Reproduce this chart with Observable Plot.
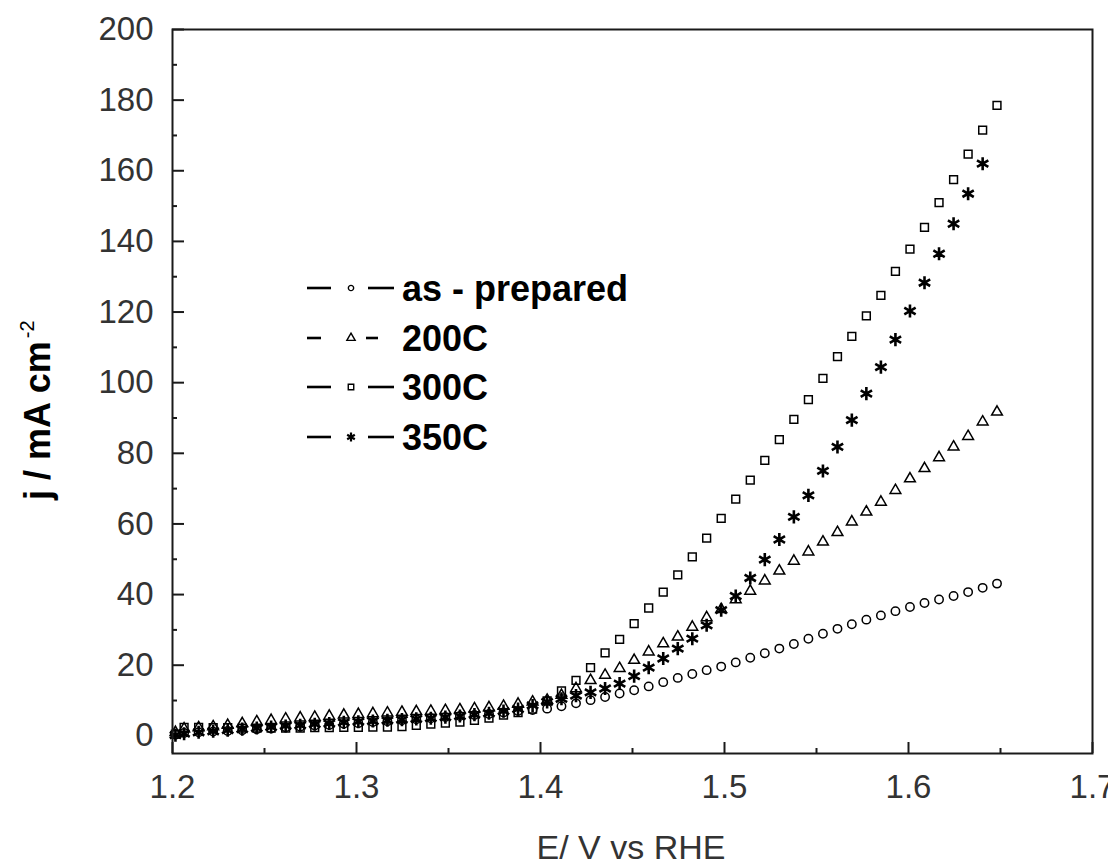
<!DOCTYPE html>
<html>
<head>
<meta charset="utf-8">
<script src="https://cdn.jsdelivr.net/npm/d3@7"></script>
<script src="https://cdn.jsdelivr.net/npm/@observablehq/plot@0.6"></script>
<style>
  body { margin: 0; background: #fff; }
  #chart { width: 1108px; height: 865px; }
</style>
</head>
<body>
<div id="chart"></div>
<script>
// Electrode potential (V vs RHE) of each sampled point
const potential = [1.2016, 1.2063, 1.2142, 1.2221, 1.2300, 1.2379, 1.2458, 1.2536, 1.2615, 1.2694,
  1.2773, 1.2852, 1.2931, 1.3010, 1.3089, 1.3168, 1.3247, 1.3325, 1.3404, 1.3483,
  1.3562, 1.3641, 1.3720, 1.3799, 1.3878, 1.3957, 1.4036, 1.4114, 1.4193, 1.4272,
  1.4351, 1.4430, 1.4509, 1.4588, 1.4667, 1.4746, 1.4825, 1.4903, 1.4982, 1.5061,
  1.5140, 1.5219, 1.5298, 1.5377, 1.5456, 1.5535, 1.5614, 1.5692, 1.5771, 1.5850,
  1.5929, 1.6008, 1.6087, 1.6166, 1.6245, 1.6324, 1.6403, 1.6481];

// Current density (mA cm^-2) for each sample
const asPrepared = [0.3, 0.8, 1.0, 1.2, 1.4, 1.6, 1.9, 2.1, 2.4, 2.6,
  2.9, 3.1, 3.4, 3.6, 3.9, 4.1, 4.4, 4.7, 5.0, 5.3,
  5.6, 5.9, 6.2, 6.6, 7.0, 7.3, 7.7, 8.4, 9.2, 10.1,
  11.0, 12.0, 12.9, 14.0, 15.2, 16.4, 17.5, 18.6, 19.6, 20.8,
  22.1, 23.4, 24.7, 26.0, 27.5, 28.9, 30.3, 31.6, 32.9, 34.1,
  35.3, 36.5, 37.6, 38.6, 39.6, 40.7, 41.9, 43.1];

const annealed200 = [1.0, 2.0, 2.3, 2.6, 3.0, 3.5, 4.0, 4.4, 4.8, 5.1,
  5.3, 5.6, 5.9, 6.1, 6.3, 6.5, 6.7, 6.9, 7.0, 7.2,
  7.4, 7.7, 8.0, 8.4, 9.0, 9.6, 10.1, 11.5, 13.4, 15.7,
  17.2, 19.1, 21.4, 23.8, 26.1, 28.0, 30.8, 33.5, 35.8, 38.6,
  41.0, 43.9, 46.7, 49.5, 52.1, 54.9, 57.6, 60.6, 63.4, 66.2,
  69.5, 72.8, 75.7, 78.8, 81.8, 84.8, 88.9, 91.7];

const annealed300 = [0.5, 2.4, 2.4, 2.3, 2.3, 2.2, 2.2, 2.2, 2.2, 2.2,
  2.3, 2.3, 2.4, 2.4, 2.5, 2.5, 2.6, 3.0, 3.3, 3.6,
  3.9, 4.4, 5.0, 5.9, 6.6, 7.6, 9.9, 12.7, 15.7, 19.3,
  23.5, 27.3, 31.8, 36.2, 40.7, 45.6, 50.7, 56.0, 61.6, 67.0,
  72.4, 78.0, 83.9, 89.6, 95.2, 101.2, 107.4, 113.1, 118.9, 124.7,
  131.5, 137.8, 144.0, 151.0, 157.5, 164.7, 171.5, 178.5];

// one sample fewer than the other runs
const annealed350 = [0.2, 0.6, 1.0, 1.3, 1.6, 1.9, 2.2, 2.5, 2.8, 3.0,
  3.3, 3.5, 3.8, 4.0, 4.2, 4.4, 4.6, 4.8, 5.0, 5.3,
  5.6, 6.0, 6.4, 7.0, 7.6, 8.6, 9.6, 10.5, 11.4, 12.3,
  13.4, 14.8, 16.9, 19.3, 21.9, 24.7, 27.5, 31.3, 35.6, 39.6,
  44.7, 49.9, 55.6, 62.0, 68.1, 75.0, 81.8, 89.4, 96.9, 104.4,
  112.2, 120.3, 128.3, 136.5, 145.0, 153.5, 162.0];

const seriesNames = ["as - prepared", "200C", "300C", "350C"];
const xTicks = [1.2, 1.3, 1.4, 1.5, 1.6, 1.7];
const xMinorTicks = [1.25, 1.35, 1.45, 1.55, 1.65];
const yTicks = [0, 20, 40, 60, 80, 100, 120, 140, 160, 180, 200];
const yMinorTicks = [10, 30, 50, 70, 90, 110, 130, 150, 170, 190];

const W = 1108, H = 865;
const margin = {left: 172, right: 16, top: 29, bottom: 112};
const innerW = W - margin.left - margin.right;
const innerH = H - margin.top - margin.bottom;

const toRows = (values) => values.map((j, i) => ({E: potential[i], j}));

const ink = "#1a1a1a";
const font = "'Liberation Sans', Arial, sans-serif";
const markerStyles = [
  {values: asPrepared, symbol: "circle", r: 4.2, strokeWidth: 1.5},
  {values: annealed200, symbol: "triangle", r: 4.0, strokeWidth: 1.5},
  {values: annealed300, symbol: "square", r: 4.4, strokeWidth: 1.5},
  {values: annealed350, symbol: "asterisk", r: 6.2, strokeWidth: 2.6}
];

const chart = Plot.plot({
  width: W,
  height: H,
  marginLeft: margin.left,
  marginRight: margin.right,
  marginTop: margin.top,
  marginBottom: margin.bottom,
  style: {fontFamily: font, color: ink, background: "#fff"},
  x: {domain: [1.2, 1.7]},
  y: {domain: [-5, 200]},
  marks: [
    Plot.axisX(xTicks, {tickSize: 0, tickPadding: 21, fontSize: 33, fill: "#333", tickFormat: (d) => d.toFixed(1), label: null}),
    Plot.axisY(yTicks, {tickSize: 0, tickPadding: 19, fontSize: 33, fill: "#333", tickFormat: (d) => String(d), label: null}),
    // inward ticks on the bottom and left edges
    Plot.tickX(xTicks, {x: (d) => d, insetTop: innerH - 11, stroke: ink, strokeWidth: 2}),
    Plot.tickX(xMinorTicks, {x: (d) => d, insetTop: innerH - 5, stroke: ink, strokeWidth: 2}),
    Plot.tickY(yTicks, {y: (d) => d, insetRight: innerW - 12, stroke: ink, strokeWidth: 2}),
    Plot.tickY(yMinorTicks, {y: (d) => d, insetRight: innerW - 5, stroke: ink, strokeWidth: 2}),
    ...markerStyles.map((s) =>
      Plot.dot(toRows(s.values), {
        x: "E", y: "j", symbol: s.symbol, r: s.r,
        stroke: "#000", fill: "none", strokeWidth: s.strokeWidth
      })
    ),
    Plot.frame({stroke: ink, strokeWidth: 2})
  ]
});

document.getElementById("chart").append(chart);

const svg = d3.select(chart);

// axis titles
svg.append("text")
  .attr("x", 631).attr("y", 859)
  .attr("text-anchor", "middle")
  .attr("font-family", font)
  .attr("font-size", 34)
  .attr("fill", "#333")
  .text("E/ V vs RHE");

const yTitle = svg.append("text")
  .attr("transform", "translate(50,500) rotate(-90)")
  .attr("text-anchor", "start")
  .attr("font-family", font)
  .attr("font-weight", "bold")
  .attr("font-size", 36)
  .attr("fill", "#000");
yTitle.append("tspan").text("j / mA cm");
yTitle.append("tspan").attr("dx", 3).attr("dy", -16).attr("font-size", 20).attr("font-weight", "normal").text("-2");

// legend: line - marker - line, then the label
const legendRows = [288, 338, 387, 437];
const legendSymbols = [d3.symbolCircle, d3.symbolTriangle, d3.symbolSquare, d3.symbolAsterisk];
const legendSizes = [22, 30, 30, 55];
const legend = svg.append("g").attr("stroke", "#000").attr("fill", "none");
seriesNames.forEach((name, i) => {
  const y = legendRows[i];
  const dashed = name === "200C";
  const segs = dashed ? [[307, 321], [366, 378]] : [[307, 331], [368, 394]];
  segs.forEach(([a, b]) => {
    legend.append("line").attr("x1", a).attr("x2", b).attr("y1", y).attr("y2", y)
      .attr("stroke-width", 2.6);
  });
  legend.append("path")
    .attr("transform", `translate(351,${y})`)
    .attr("d", d3.symbol(legendSymbols[i], legendSizes[i])())
    .attr("stroke-width", i === 3 ? 2.2 : 1.4);
  svg.append("text")
    .attr("x", 402).attr("y", y + 13)
    .attr("text-anchor", "start")
    .attr("font-family", font)
    .attr("font-weight", "bold")
    .attr("font-size", 36)
    .attr("fill", "#000")
    .text(name);
});
</script>
</body>
</html>
